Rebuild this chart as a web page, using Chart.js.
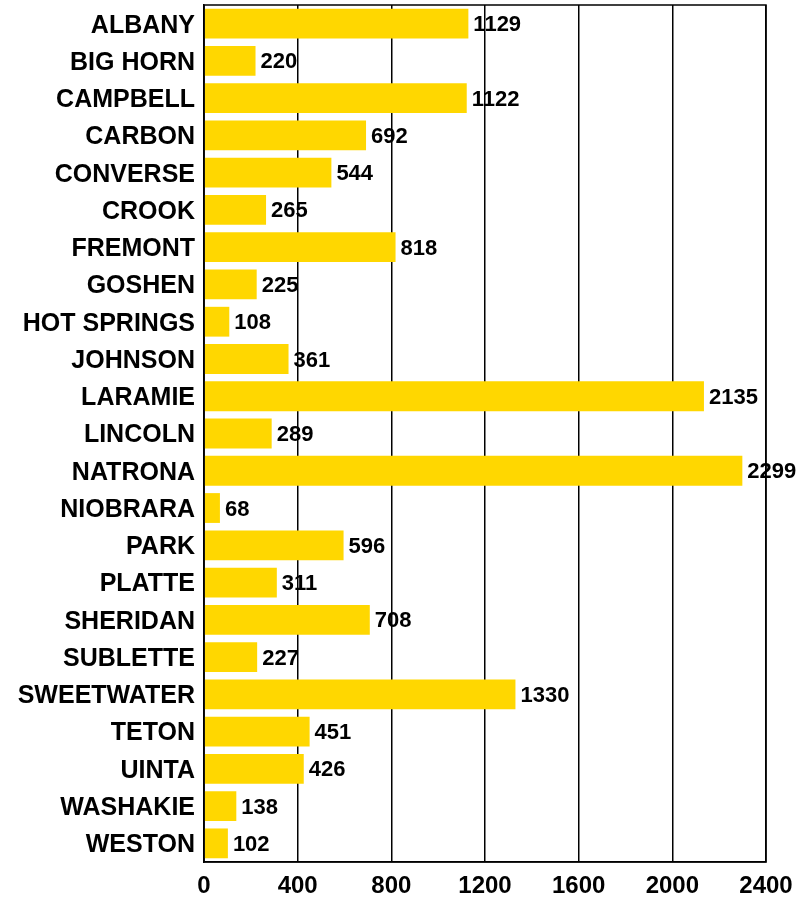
<!DOCTYPE html>
<html>
<head>
<meta charset="utf-8">
<script src="https://cdn.jsdelivr.net/npm/chart.js@4"></script>
<style>
  html, body { margin: 0; padding: 0; background: #fff; }
  #wrap { width: 811px; height: 897px; }
</style>
</head>
<body>
<div id="wrap"><canvas id="countyChart"></canvas></div>
<script>
var counties = ['ALBANY', 'BIG HORN', 'CAMPBELL', 'CARBON', 'CONVERSE', 'CROOK', 'FREMONT',
  'GOSHEN', 'HOT SPRINGS', 'JOHNSON', 'LARAMIE', 'LINCOLN', 'NATRONA', 'NIOBRARA', 'PARK',
  'PLATTE', 'SHERIDAN', 'SUBLETTE', 'SWEETWATER', 'TETON', 'UINTA', 'WASHAKIE', 'WESTON'];
var counts = [1129, 220, 1122, 692, 544, 265, 818, 225, 108, 361, 2135, 289, 2299, 68, 596,
  311, 708, 227, 1330, 451, 426, 138, 102];
var xTicks = [0, 400, 800, 1200, 1600, 2000, 2400];

var fontFam = '"Liberation Sans", Arial, sans-serif';

// value labels at the end of each bar + frame round the plot
var valueLabels = {
  id: 'valueLabels',
  afterDatasetsDraw: function(chart) {
    var ctx = chart.ctx;
    var meta = chart.getDatasetMeta(0);
    ctx.save();
    ctx.font = 'bold 22px ' + fontFam;
    ctx.fillStyle = '#000';
    ctx.textAlign = 'left';
    ctx.textBaseline = 'middle';
    meta.data.forEach(function(bar, i) {
      ctx.fillText(String(counts[i]), bar.x + 5, bar.y + 1.5);
    });
    var a = chart.chartArea;
    ctx.strokeStyle = '#000';
    ctx.lineWidth = 1.5;
    ctx.strokeRect(a.left, a.top, a.right - a.left, a.bottom - a.top);
    ctx.restore();
  }
};

var ctx = document.getElementById('countyChart').getContext('2d');
new Chart(ctx, {
  type: 'bar',
  data: {
    labels: counties,
    datasets: [{
      data: counts,
      backgroundColor: '#FFD700',
      barPercentage: 0.8,
      categoryPercentage: 1.0
    }]
  },
  options: {
    indexAxis: 'y',
    responsive: true,
    maintainAspectRatio: false,
    animation: false,
    layout: { padding: { left: 0, right: 45, top: 5, bottom: 0 } },
    plugins: {
      legend: { display: false },
      tooltip: { enabled: false }
    },
    scales: {
      x: {
        min: 0,
        max: 2400,
        afterBuildTicks: function(scale) {
          scale.ticks = xTicks.map(function(v) { return { value: v }; });
        },
        afterFit: function(scale) {
          scale.height = 35;
          scale.paddingLeft = 0;
          scale.paddingRight = 0;
        },
        grid: { color: '#000', lineWidth: 1.5, drawTicks: false },
        border: { color: '#000', width: 1.5 },
        ticks: {
          color: '#000',
          padding: 10,
          maxRotation: 0,
          callback: function(v) { return String(v); },
          font: { family: fontFam, size: 24, weight: 'bold' }
        }
      },
      y: {
        afterFit: function(scale) {
          scale.width = 204;
          scale.paddingTop = 0;
          scale.paddingBottom = 0;
        },
        grid: { display: false, drawTicks: false },
        border: { color: '#000', width: 1.5 },
        ticks: {
          color: '#000',
          padding: 9,
          labelOffset: 2,
          autoSkip: false,
          font: { family: fontFam, size: 25, weight: 'bold' }
        }
      }
    }
  },
  plugins: [valueLabels]
});
</script>
</body>
</html>
